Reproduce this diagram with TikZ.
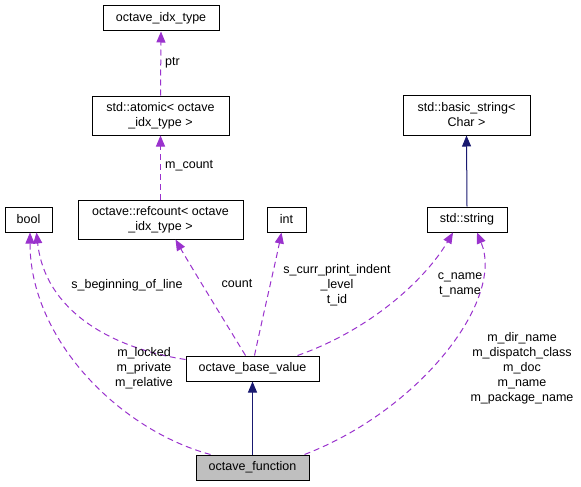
\documentclass[tikz,border=0pt]{standalone}
\usepackage{fontspec}
\setmainfont{Liberation Sans}
\usetikzlibrary{arrows.meta}
\definecolor{edgepurple}{HTML}{9A32CD}
\definecolor{edgenavy}{HTML}{191970}
\definecolor{boxgray}{HTML}{BFBFBF}
\tikzset{
  cls/.style={draw,line width=1pt,inner sep=0pt,align=center,font=\fontsize{12.5}{15}\selectfont},
  usage/.style={edgepurple,line width=1pt,dash pattern=on 6pt off 4pt,-{Triangle[length=11pt,width=9pt]}},
  inherit/.style={edgenavy,line width=1pt,-{Triangle[length=11pt,width=9pt]}},
  lbl/.style={align=center,inner sep=0pt,font=\fontsize{12.5}{15}\selectfont}
}

\begin{document}
\begin{tikzpicture}[x=1pt,y=-1pt]
    \useasboundingbox (0,0) rectangle (581,487);
    \node[cls,minimum width=116pt,minimum height=25pt] at (161,18.5) (idx) {octave\_idx\_type};
    \node[cls,minimum width=137pt,minimum height=39pt] at (160.5,115.5) (atomic) {std::atomic< octave\\\_idx\_type >};
    \node[cls,minimum width=165pt,minimum height=39pt] at (160.5,219.5) (refcount) {octave::refcount< octave\\\_idx\_type >};
    \node[cls,minimum width=47pt,minimum height=25pt] at (28.5,219.5) (bool) {bool};
    \node[cls,minimum width=39pt,minimum height=25pt] at (286.5,219.5) (int) {int};
    \node[cls,minimum width=127pt,minimum height=40pt] at (466.5,115) (basicstr) {std::basic\_string<\\Char >};
    \node[cls,minimum width=80pt,minimum height=25pt] at (467,219.5) (strg) {std::string};
    \node[cls,minimum width=133pt,minimum height=25pt] at (252.5,368.5) (basevalue) {octave\_base\_value};
    \node[cls,fill=boxgray,minimum width=113pt,minimum height=25pt] at (252.5,467.5) (func) {octave\_function};
    \draw[usage] (atomic.north) -- (idx.south);
    \draw[usage] (refcount.north) -- (atomic.south);
    \draw[usage] ([xshift=-7pt]basevalue.north) .. controls (230,330) and (190,265) .. ([xshift=15pt]refcount.south);
    \draw[usage] ([xshift=2pt]basevalue.north) .. controls (262,320) and (276,260) .. ([xshift=-5pt]int.south);
    \draw[usage] ([xshift=45pt]basevalue.north) .. controls (370,330) and (425,280) .. ([xshift=-14pt]strg.south);
    \draw[usage] ([xshift=52pt]func.north) .. controls (420,410) and (505,300) .. ([xshift=10pt]strg.south);
    \draw[usage] ([yshift=9pt]basevalue.west) .. controls (110,348) and (45,310) .. ([xshift=8pt]bool.south);
    \draw[usage] ([xshift=-42pt]func.north) .. controls (120,430) and (30,340) .. ([xshift=1.5pt]bool.south);
    \draw[inherit] (strg.north) -- (basicstr.south);
    \draw[inherit] (func.north) -- (basevalue.south);
    \node[lbl,anchor=west] at (165,63) (ptrlbl) {ptr};
    \node[lbl,anchor=west] at (165,166) (mcountlbl) {m\_count};
    \node[lbl] at (237,284) (countlbl) {count};
    \node[lbl] at (337,285) (indentlbl) {s\_curr\_print\_indent\\\_level\\t\_id};
    \node[lbl] at (460,285) (namelbl) {c\_name\\t\_name};
    \node[lbl] at (522,368) (mnamelbl) {m\_dir\_name\\m\_dispatch\_class\\m\_doc\\m\_name\\m\_package\_name};
    \node[lbl] at (127,285) (beginlbl) {s\_beginning\_of\_line};
    \node[lbl] at (144,368) (lockedlbl) {m\_locked\\m\_private\\m\_relative};
\end{tikzpicture}
\end{document}
